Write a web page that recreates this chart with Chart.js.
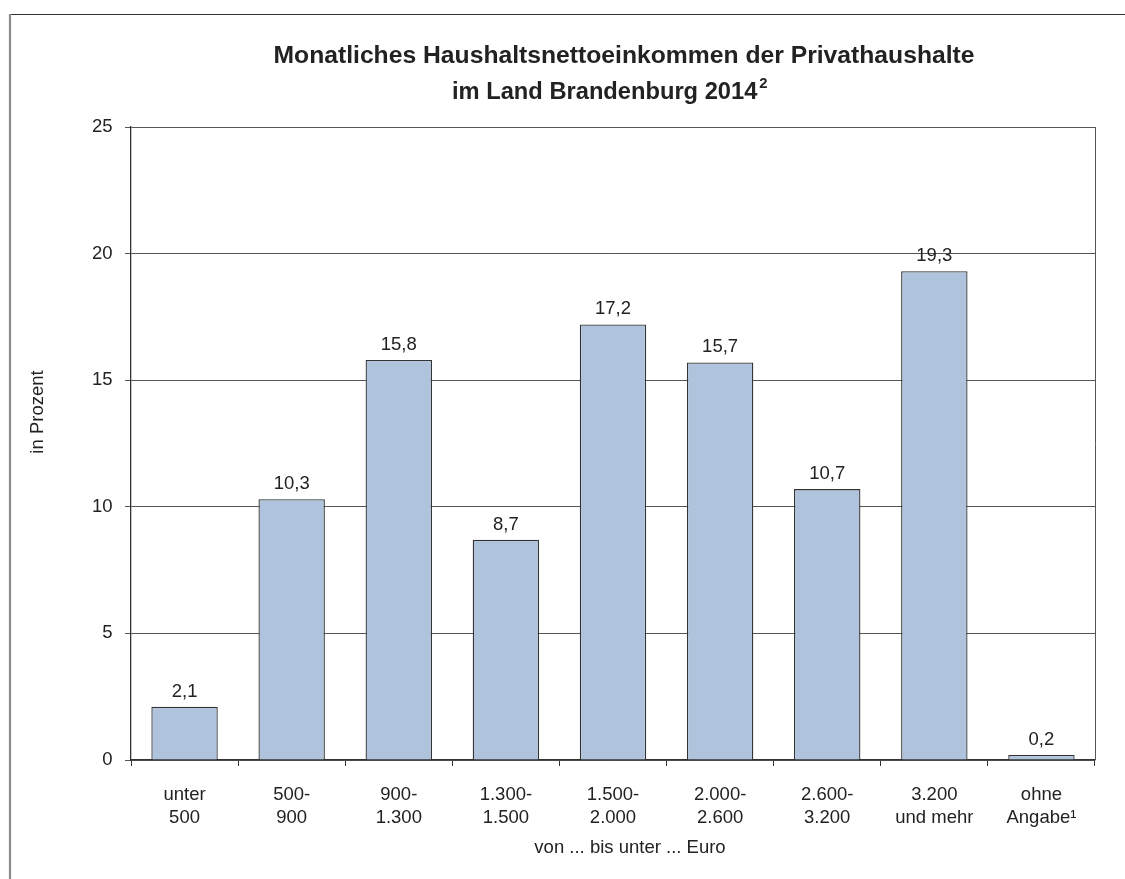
<!DOCTYPE html>
<html>
<head>
<meta charset="utf-8">
<script src="https://cdn.jsdelivr.net/npm/chart.js@4"></script>
<style>
  html, body { margin: 0; padding: 0; background: #fff; }
  #wrap { width: 1125px; height: 879px; }
</style>
</head>
<body>
<div id="wrap"><canvas id="c" width="1125" height="879"></canvas></div>
<script>
// Einkommensklassen (zweizeilige Achsenbeschriftung)
const categories = [
  ['unter', '500'],
  ['500-', '900'],
  ['900-', '1.300'],
  ['1.300-', '1.500'],
  ['1.500-', '2.000'],
  ['2.000-', '2.600'],
  ['2.600-', '3.200'],
  ['3.200', 'und mehr'],
  ['ohne', 'Angabe\u00B9']
];
// Anteil der Privathaushalte in Prozent
const shares = [2.1, 10.3, 15.8, 8.7, 17.2, 15.7, 10.7, 19.3, 0.2];
// Werte der y-Achse
const yTicks = [0, 5, 10, 15, 20, 25];

const titleLine1 = 'Monatliches Haushaltsnettoeinkommen der Privathaushalte';
const titleLine2 = 'im Land Brandenburg 2014';
const titleSup = '2';
const yTitle = 'in Prozent';
const xTitle = 'von ... bis unter ... Euro';

const FONT = '"Liberation Sans", Arial, sans-serif';
const TEXT = '#222222';
const SIZE = 18.5;

const fmt = v => v.toFixed(1).replace('.', ',');

// Rahmen, Überschrift, Achsentitel, Wertbeschriftungen
const decor = {
  id: 'decor',
  beforeDraw(chart) {
    const ctx = chart.ctx;
    ctx.save();
    ctx.fillStyle = '#fff';
    ctx.fillRect(0, 0, chart.width, chart.height);
    ctx.strokeStyle = '#333';
    ctx.lineWidth = 1.2;
    ctx.beginPath();
    ctx.moveTo(9, 14.5);
    ctx.lineTo(chart.width, 14.5);
    ctx.stroke();
    ctx.strokeStyle = '#8c8c8c';
    ctx.lineWidth = 2.2;
    ctx.beginPath();
    ctx.moveTo(10, 14);
    ctx.lineTo(10, chart.height);
    ctx.stroke();
    ctx.restore();
  },
  afterDraw(chart) {
    const ctx = chart.ctx;
    const area = chart.chartArea;
    ctx.save();
    // rechter Rand der Zeichenfläche
    ctx.strokeStyle = '#555';
    ctx.lineWidth = 1;
    ctx.beginPath();
    ctx.moveTo(area.right + 0.5, area.top);
    ctx.lineTo(area.right + 0.5, area.bottom);
    ctx.stroke();

    // Überschrift
    ctx.fillStyle = TEXT;
    ctx.textBaseline = 'alphabetic';
    ctx.textAlign = 'left';
    ctx.font = 'bold 24.7px ' + FONT;
    const w1 = ctx.measureText(titleLine1).width;
    ctx.fillText(titleLine1, 624 - w1 / 2, 62.5);
    ctx.font = 'bold 23.7px ' + FONT;
    const w2 = ctx.measureText(titleLine2).width;
    const x2 = 452;
    ctx.fillText(titleLine2, x2, 98.5);
    ctx.font = 'bold 14.8px ' + FONT;
    ctx.fillText(titleSup, x2 + w2 + 2, 87.5);

    // Achsentitel
    ctx.font = SIZE + 'px ' + FONT;
    ctx.textAlign = 'center';
    ctx.fillText(xTitle, 630, 853);
    ctx.save();
    ctx.translate(43, 412);
    ctx.rotate(-Math.PI / 2);
    ctx.fillText(yTitle, 0, 0);
    ctx.restore();

    // Wertbeschriftungen über den Säulen
    ctx.font = SIZE + 'px ' + FONT;
    ctx.textAlign = 'center';
    ctx.textBaseline = 'alphabetic';
    const meta = chart.getDatasetMeta(0);
    meta.data.forEach((bar, i) => {
      ctx.fillText(fmt(shares[i]), bar.x, bar.y - 10);
    });
    ctx.restore();
  }
};

new Chart(document.getElementById('c'), {
  type: 'bar',
  data: {
    labels: categories,
    datasets: [{
      data: shares,
      backgroundColor: '#afc4dc',
      borderColor: '#333333',
      borderWidth: 1.3,
      barPercentage: 0.62,
      categoryPercentage: 1.0
    }]
  },
  options: {
    responsive: false,
    animation: false,
    devicePixelRatio: 1,
    layout: { padding: { left: 0, top: 127, right: 30, bottom: 0 } },
    plugins: {
      legend: { display: false },
      tooltip: { enabled: false }
    },
    scales: {
      x: {
        afterFit(scale) { scale.height = 119; },
        grid: {
          offset: true,
          drawOnChartArea: false,
          drawTicks: true,
          tickLength: 6,
          color: '#333'
        },
        border: { display: true, color: '#333', width: 1.3 },
        ticks: {
          color: TEXT,
          padding: 18,
          maxRotation: 0,
          autoSkip: false,
          font: { family: FONT, size: SIZE, lineHeight: '22.3px' }
        }
      },
      y: {
        min: 0,
        max: 25,
        afterFit(scale) { scale.width = 131; },
        afterBuildTicks(scale) { scale.ticks = yTicks.map(v => ({ value: v })); },
        grid: {
          color: '#555',
          lineWidth: 1,
          drawTicks: true,
          tickLength: 6
        },
        border: { display: true, color: '#333', width: 1.3 },
        ticks: {
          color: TEXT,
          padding: 12.5,
          font: { family: FONT, size: SIZE }
        }
      }
    }
  },
  plugins: [decor]
});
</script>
</body>
</html>
